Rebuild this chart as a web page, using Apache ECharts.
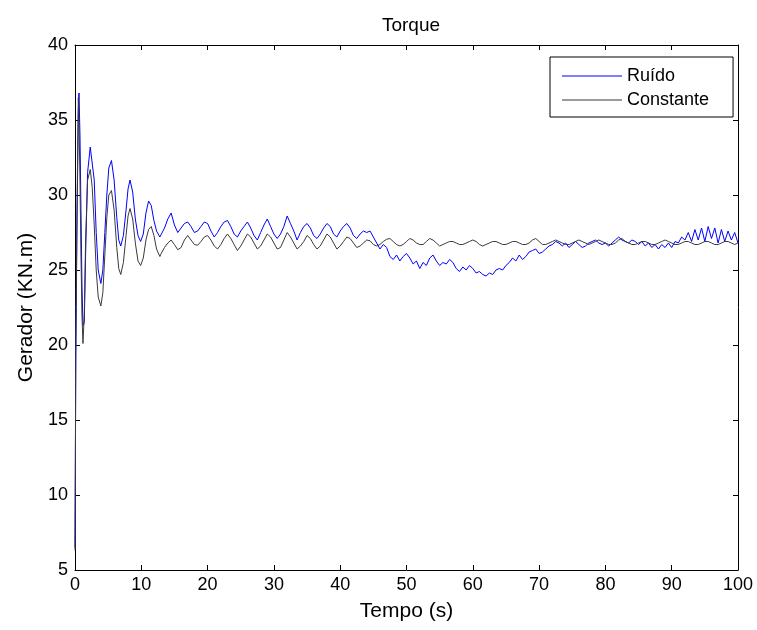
<!DOCTYPE html>
<html>
<head>
<meta charset="utf-8">
<script src="https://cdn.jsdelivr.net/npm/echarts@6/dist/echarts.min.js"></script>
<style>html,body{margin:0;padding:0;background:#fff}#c{width:757px;height:630px}</style>
</head>
<body>
<div id="c"></div>
<script>
var titulo = "Torque";
var nomeX = "Tempo (s)";
var nomeY = "Gerador (KN.m)";
var nomesSeries = ["Ruído", "Constante"];

var tempo = [0,0.05,0.12,0.3,0.5,0.6,0.75,0.9,1.05,1.2,1.4,1.6,1.9,2.3,2.6,2.9,3.2,3.5,3.9,4.2,4.5,4.8,5.1,5.5,5.9,6.3,6.6,6.9,7.3,7.7,8.0,8.3,8.7,9.1,9.5,9.9,10.3,10.7,11.1,11.5,11.9,12.3,12.8,
13,13.5,14,14.5,15,15.5,16,16.5,17,17.5,18,18.5,19,19.5,20,20.5,21,21.5,22,22.5,23,23.5,24,24.5,25,25.5,26,26.5,27,27.5,28,28.5,29,29.5,30,30.5,
31,31.5,32,32.5,33,33.5,34,34.5,35,35.5,36,36.5,37,37.5,38,38.5,39,39.5,40,40.5,41,41.5,42,42.5,43,43.5,44,44.5,45,45.5,46,46.5,47,47.5,48,48.5,49,49.5,50,50.5,
51,51.5,52,52.5,53,53.5,54,54.5,55,55.5,56,56.5,57,57.5,58,58.5,59,59.5,60,60.5,61,61.5,62,62.5,63,63.5,64,64.5,65,65.5,66,66.5,67,67.5,68,68.5,69,69.5,70,70.5,
71,71.5,72,72.5,73,73.5,74,74.5,75,75.5,76,76.5,77,77.5,78,78.5,79,79.5,80,80.5,81,81.5,82,82.5,83,83.5,84,84.5,85,85.5,86,86.5,87,87.5,88,88.5,89,89.5,90,90.5,
91,91.5,92,92.5,93,93.5,94,94.5,95,95.5,96,96.5,97,97.5,98,98.5,99,99.5,100];

var ruido = [6.5,12,19.3,28,35.5,36.8,34,29,24,21.3,21.5,26,31.5,33.2,33.1,31,27.5,25,24.1,25,27.5,30,31.8,32.3,31,28.5,27.0,26.6,27.3,29,30.4,31.0,30.2,28.4,27.3,26.9,27.4,28.8,29.6,29.3,28.3,27.6,27.2,
27.3,27.8,28.4,28.8,28.0,27.5,27.8,28.1,28.2,27.9,27.5,27.6,27.9,28.2,28.1,27.6,27.2,27.5,27.9,28.2,28.3,27.9,27.4,27.2,27.6,27.9,28.2,27.8,27.3,27.0,27.5,28.0,28.4,27.9,27.4,27.1,
27.4,27.9,28.6,28.1,27.6,27.0,27.5,27.9,28.1,27.8,27.3,27.1,27.4,27.8,28.1,27.9,27.4,27.2,27.6,27.9,28.1,27.8,27.3,27.1,27.4,27.6,27.5,27.6,27.2,26.8,26.4,26.7,26.5,25.9,25.7,26.0,25.6,25.9,26.1,25.8,
25.4,25.6,25.1,25.5,25.3,25.8,26.0,25.6,25.3,25.5,25.4,25.7,25.5,25.1,24.9,25.2,25.0,25.3,25.1,24.8,24.9,24.7,24.6,24.8,24.7,25.0,25.1,25.0,25.3,25.5,25.8,25.6,26.0,25.7,25.9,26.2,26.3,26.4,26.1,26.2,
26.4,26.6,26.7,26.9,26.8,26.6,26.8,26.5,26.7,26.9,26.7,26.5,26.6,26.8,26.9,27.0,26.8,26.7,26.8,26.6,26.8,27.0,27.2,27.0,26.9,26.8,27.0,26.9,26.7,26.9,26.6,26.8,26.5,26.7,26.4,26.7,26.5,26.8,26.5,26.9,
26.8,27.2,27.0,27.5,26.9,27.7,27.0,27.8,26.9,27.9,27.1,27.8,26.8,27.7,26.9,27.6,27.0,27.5,26.8];

var constante = [6.3,11,19.5,29,36.5,35,31,26,22,20.1,22,27,31,31.7,30.5,28,25,23.2,22.6,23.5,26,28.5,30,30.3,29,26.5,25.1,24.7,25.5,27.3,28.6,29.1,28.4,26.8,25.6,25.3,25.8,27.0,27.7,27.9,27.3,26.4,25.9,
26.1,26.5,26.8,27.0,26.7,26.35,26.5,27.0,27.3,27.0,26.7,26.65,26.9,27.2,27.3,27.0,26.6,26.4,26.7,27.1,27.4,27.1,26.7,26.3,26.6,27.0,27.4,27.2,26.8,26.4,26.6,27.0,27.4,27.2,26.8,26.4,
26.5,27.0,27.5,27.2,26.8,26.4,26.6,26.9,27.3,27.1,26.7,26.4,26.6,27.0,27.4,27.2,26.8,26.4,26.6,26.9,27.2,27.1,26.8,26.5,26.6,26.8,27.0,26.95,26.7,26.6,26.7,26.9,27.05,27.1,26.9,26.7,26.6,26.7,26.9,27.1,
27.0,26.8,26.7,26.7,26.9,27.1,27.0,26.8,26.6,26.7,26.8,26.9,26.9,26.8,26.7,26.7,26.8,26.9,27.0,26.9,26.7,26.6,26.7,26.8,26.9,26.9,26.8,26.7,26.7,26.8,26.9,26.9,26.8,26.7,26.7,26.8,27.0,27.1,26.9,26.7,
26.7,26.8,26.9,27.0,26.9,26.8,26.7,26.7,26.8,26.9,27.0,26.9,26.8,26.7,26.8,26.9,27.0,26.9,26.8,26.7,26.7,26.8,27.0,27.1,26.9,26.8,26.7,26.7,26.8,26.9,26.9,26.8,26.7,26.7,26.8,26.9,27.0,26.9,26.8,26.7,
26.7,26.8,26.9,26.9,26.8,26.7,26.7,26.8,26.9,26.9,26.8,26.7,26.7,26.8,26.9,26.9,26.8,26.7,26.8];

var xMin = 0, xMax = 100, xStep = 10;
var yMin = 5, yMax = 40, yStep = 5;

function pares(vals) {
  var out = [];
  for (var i = 0; i < tempo.length && i < vals.length; i++) out.push([tempo[i], vals[i]]);
  return out;
}

var fonte = "'Liberation Sans', Arial, Helvetica, sans-serif";
var chart = echarts.init(document.getElementById('c'), null, {renderer: 'canvas'});

function eixoX(pos, labels) {
  return {
    type: 'value', position: pos, min: xMin, max: xMax, interval: xStep,
    name: labels ? nomeX : '', nameLocation: 'middle', nameGap: 31,
    nameTextStyle: {fontFamily: fonte, fontSize: 21, color: '#000'},
    axisLine: {show: true, onZero: false, lineStyle: {color: '#000', width: 1}},
    axisTick: {show: true, inside: true, length: 5, lineStyle: {color: '#000'}},
    axisLabel: {show: labels, fontFamily: fonte, fontSize: 18, color: '#000', margin: 6},
    splitLine: {show: false}
  };
}
function eixoY(pos, labels) {
  return {
    type: 'value', position: pos, min: yMin, max: yMax, interval: yStep,
    name: labels ? nomeY : '', nameLocation: 'middle', nameGap: 38,
    nameTextStyle: {fontFamily: fonte, fontSize: 21, color: '#000'},
    axisLine: {show: true, onZero: false, lineStyle: {color: '#000', width: 1}},
    axisTick: {show: true, inside: true, length: 5, lineStyle: {color: '#000'}},
    axisLabel: {show: labels, fontFamily: fonte, fontSize: 18, color: '#000', margin: 7},
    splitLine: {show: false}
  };
}

chart.setOption({
  animation: false,
  backgroundColor: '#fff',
  title: {
    text: titulo, left: 406, top: 11, textAlign: 'center',
    textStyle: {fontFamily: fonte, fontSize: 19, fontWeight: 'normal', color: '#000'}
  },
  grid: {left: 75, right: 19, top: 45, bottom: 60, containLabel: false},
  legend: {
    orient: 'vertical', left: 550, top: 57,
    data: [{name: nomesSeries[0], icon: 'rect'}, {name: nomesSeries[1], icon: 'rect'}],
    backgroundColor: '#fff', borderColor: '#000', borderWidth: 1, borderRadius: 0,
    padding: [10, 24, 8, 12], itemGap: 6, itemWidth: 60, itemHeight: 1,
    textStyle: {fontFamily: fonte, fontSize: 18, color: '#000'}
  },
  xAxis: [eixoX('bottom', true), eixoX('top', false)],
  yAxis: [eixoY('left', true), eixoY('right', false)],
  series: [
    {name: nomesSeries[0], type: 'line', data: pares(ruido), showSymbol: false, symbol: 'none',
     lineStyle: {color: '#0000ff', width: 1}, itemStyle: {color: '#0000ff'}, z: 3},
    {name: nomesSeries[1], type: 'line', data: pares(constante), showSymbol: false, symbol: 'none',
     lineStyle: {color: '#3a3a3a', width: 1}, itemStyle: {color: '#3a3a3a'}, z: 4}
  ]
});
</script>
</body>
</html>
